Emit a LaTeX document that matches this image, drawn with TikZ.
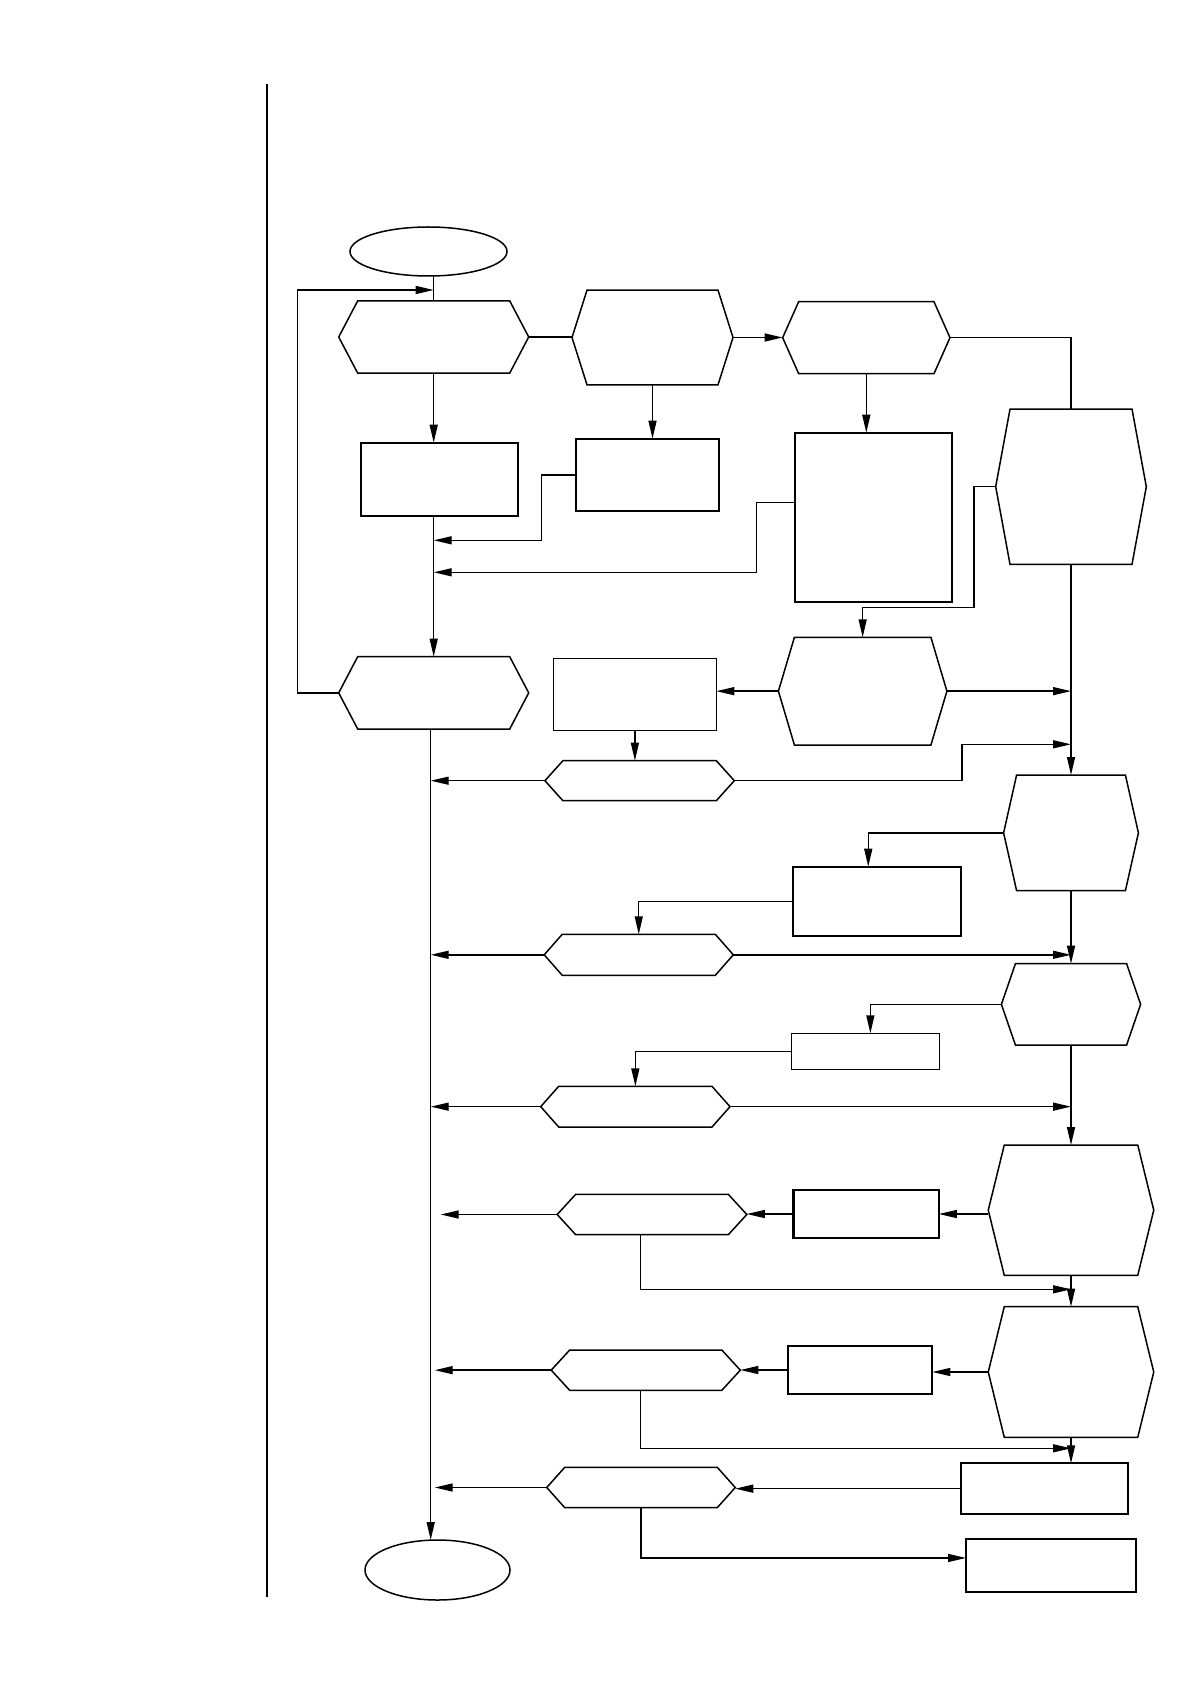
\documentclass[tikz,border=0pt]{standalone}
\usetikzlibrary{arrows.meta,shapes.geometric}
\tikzset{
  hexbb/.style={rectangle, draw=none, inner sep=0pt, outer sep=0pt},
  hexline/.style={draw=black, line width=0.75pt, line join=miter},
  boxthick/.style={rectangle, draw=black, line width=1.1pt, inner sep=0pt, outer sep=0pt},
  boxthin/.style={rectangle, draw=black, line width=0.7pt, inner sep=0pt, outer sep=0pt},
  term/.style={ellipse, draw=black, line width=0.75pt, inner sep=0pt, outer sep=0pt},
  conn/.style={draw=black, line width=0.7pt},
  arr/.style={conn, -{Triangle[length=9pt,width=4pt]}},
  rule/.style={draw=black, line width=0.8pt},
}
\newcommand{\myhex}[6]{%
  \node[hexbb, minimum width=#4*0.5pt, minimum height=#5*0.5pt] (#1) at (#2,#3) {};
  \draw[hexline] (#1.west) -- ([xshift=#6*0.5pt]#1.north west) -- ([xshift=-#6*0.5pt]#1.north east) -- (#1.east) -- ([xshift=-#6*0.5pt]#1.south east) -- ([xshift=#6*0.5pt]#1.south west) -- cycle;}
\begin{document}
\begin{tikzpicture}[x=0.5pt,y=-0.5pt]
\fill[white] (0,0) rectangle (1190,1684);
\useasboundingbox (0,0) rectangle (1190,1684);

% shapes
\node[term, minimum width=157*0.5pt, minimum height=49*0.5pt] (st) at (428.5,251.5) {};
\myhex{h1}{433.7}{337}{190}{72.3}{19}
\myhex{h2}{652.5}{337.5}{161}{94.7}{15}
\myhex{h3}{866.3}{337.7}{167.3}{72}{16}
\myhex{h4}{1071}{486.7}{150.6}{155.3}{14.3}
\node[boxthick, minimum width=157.6*0.5pt, minimum height=73.6*0.5pt] (b1) at (439.5,479.5) {};
\node[boxthick, minimum width=143*0.5pt, minimum height=72.3*0.5pt] (b2) at (647.8,474.85) {};
\node[boxthick, minimum width=157.3*0.5pt, minimum height=169.3*0.5pt] (b3) at (873.65,517.35) {};
\myhex{h5}{433.7}{692.85}{190}{72.3}{19}
\node[boxthin, minimum width=162.8*0.5pt, minimum height=72*0.5pt] (b4) at (634.9,694.3) {};
\myhex{h6}{862.65}{691.15}{168.5}{107.7}{16}
\myhex{hA}{639.6}{780.7}{189.4}{40}{18}
\myhex{h7}{1071}{832.85}{134.8}{115.7}{13}
\node[boxthick, minimum width=167.9*0.5pt, minimum height=69.6*0.5pt] (b5) at (877.05,901.5) {};
\myhex{hB}{638.75}{954.8}{189.1}{41}{18}
\myhex{h8}{1071}{1004.35}{139.2}{81.3}{14}
\node[boxthin, minimum width=147.9*0.5pt, minimum height=36*0.5pt] (b6) at (865.35,1051.3) {};
\myhex{hC}{635.35}{1106.65}{189.3}{40.7}{18}
\myhex{h9}{1071}{1210.15}{165.5}{130.3}{16}
\node[boxthick, minimum width=145.3*0.5pt, minimum height=48*0.5pt] (b7) at (866.15,1214) {};
\myhex{hD}{652}{1214.5}{189.6}{40.4}{18.5}
\myhex{h10}{1071}{1372}{165.5}{130.6}{16}
\node[boxthick, minimum width=144.7*0.5pt, minimum height=48*0.5pt] (b8) at (859.95,1370) {};
\myhex{hE}{645.75}{1370.15}{189.1}{40.3}{18.5}
\node[boxthick, minimum width=167*0.5pt, minimum height=50.7*0.5pt] (b9) at (1044.5,1488.65) {};
\myhex{hF}{641}{1487.5}{188.5}{40.4}{18}
\node[boxthick, minimum width=170*0.5pt, minimum height=53.3*0.5pt] (b10) at (1051,1565.35) {};
\node[term, minimum width=145*0.5pt, minimum height=60*0.5pt] (en) at (437.5,1570) {};

% coordinates
\coordinate (rtop) at (266.7,84.3);
\coordinate (rbot) at (266.7,1597.3);
\coordinate (mtop) at ([xshift=-1.5pt]h5.south);
\coordinate (loopin) at (433.7,290);
\coordinate (j2) at (433.7,540.3);
\coordinate (j3) at (433.7,572.3);
\coordinate (jA) at (1071,744.3);
\coordinate (jD) at (1071,1289.3);
\coordinate (jE) at (1071,1448.3);

% left rule
\draw[rule] (rtop) -- (rbot);

% connectors
\draw[conn] (st.south -| h1.north) -- (h1.north);
\draw[arr] (h5.west) -- ++(-41.4,0) |- (loopin);
\draw[conn] (h1.east) -- (h1.east -| h2.west);
\draw[arr] (h2.east) -- (h2.east -| h3.west);
\draw[conn] (h3.east) -| (h4.north);
\draw[arr] (h1.south) -- (h1.south |- b1.north);
\draw[arr] (h2.south) -- (h2.south |- b2.north);
\draw[arr] (h3.south) -- (h3.south |- b3.north);
\draw[arr] (h1.south |- b1.south) -- (h5.north);
\draw[arr] (b2.west) -- ++(-35,0) |- (j2);
\draw[arr] (b3.west |- 0,502.3) -- (756.7,502.3) |- (j3);
\draw[arr] (h4.west) -| (974,607.5) -| (h6.north);
\draw[arr] (h6.west) -- (h6.west -| b4.east);
\draw[arr] (h6.east) -- (h6.east -| h7.north);
\draw[arr] (b4.south) -- (b4.south |- hA.north);
\draw[arr] (hA.west) -- (hA.west -| mtop);
\draw[arr] (hA.east) -- ++(227.7,0) |- (jA);
\draw[arr] (h4.south) -- (h7.north);
\draw[arr] (h7.west) -| ([xshift=-4.4pt]b5.north);
\draw[arr] (b5.west) -| (hB.north);
\draw[arr] (hB.west) -- (hB.west -| mtop);
\draw[arr] (hB.east) -- (hB.east -| h8.north);
\draw[arr] (h7.south) -- (h8.north);
\draw[arr] (h8.west) -| ([xshift=2.5pt]b6.north);
\draw[arr] (b6.west) -| (hC.north);
\draw[arr] (hC.west) -- (hC.west -| mtop);
\draw[arr] (hC.east) -- (hC.east -| h9.north);
\draw[arr] (h8.south) -- (h9.north);
\draw[arr] (h9.west |- b7.east) -- (b7.east);
\draw[arr] (b7.west) -- (b7.west -| hD.east);
\draw[arr] (hD.west) -- ([xshift=5pt]hD.west -| mtop);
\draw[arr] ([xshift=-5.85pt]hD.south) |- (jD);
\draw[arr] (h9.south) -- (h10.north);
\draw[arr] (h10.west) -- (h10.west -| b8.east);
\draw[arr] (b8.west) -- (b8.west -| hE.east);
\draw[arr] (hE.west) -- ([xshift=2pt]hE.west -| mtop);
\draw[arr] ([xshift=-2.7pt]hE.south) |- (jE);
\draw[arr] (h10.south) -- (h10.south |- b9.north);
\draw[arr] (b9.west) -- (b9.west -| hF.east);
\draw[arr] (hF.west) -- ([xshift=2pt]hF.west -| mtop);
\draw[arr] (hF.south) |- ([yshift=3.7pt]b10.west);
\draw[arr] (mtop) -- (mtop |- en.north);
\end{tikzpicture}
\end{document}
